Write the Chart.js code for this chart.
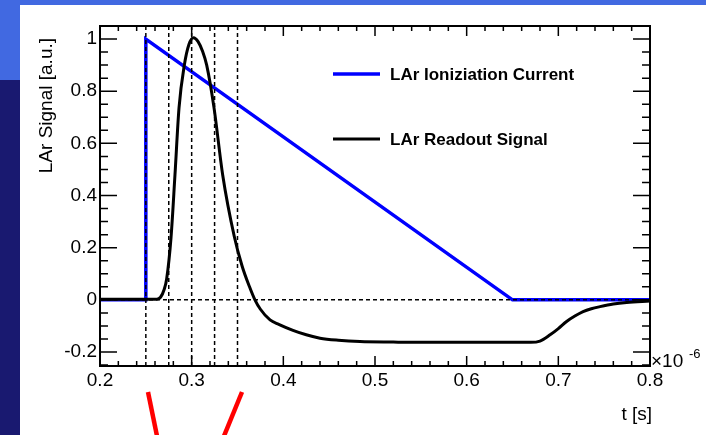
<!DOCTYPE html>
<html>
<head>
<meta charset="utf-8">
<script src="https://cdn.jsdelivr.net/npm/chart.js@4/dist/chart.umd.min.js"></script>
<style>
  body { margin: 0; width: 706px; height: 435px; overflow: hidden; background: #191970; position: relative; }
  #topBand { position: absolute; left: 0; top: 0; width: 706px; height: 5px; background: #4169e1; }
  #leftBand { position: absolute; left: 0; top: 0; width: 20px; height: 80px; background: #4169e1; }
  #panel { position: absolute; left: 20px; top: 5px; width: 686px; height: 430px; background: #fff; }
  #chart { position: absolute; left: 0; top: 0; }
  #marks { position: absolute; left: 0; top: 0; }
</style>
</head>
<body>
<div id="topBand"></div>
<div id="leftBand"></div>
<div id="panel"></div>
<canvas id="chart" width="706" height="435"></canvas>
<svg id="marks" width="706" height="435">
  <line x1="148" y1="392" x2="157" y2="436" stroke="#ff0000" stroke-width="4.5"/>
  <line x1="242" y1="392" x2="224" y2="436" stroke="#ff0000" stroke-width="4.5"/>
</svg>
<script>
// Time axis in units of 1e-6 s
const xMin = 0.2, xMax = 0.8;
const yMin = -0.2536, yMax = 1.05;
const xTicks = [0.2, 0.3, 0.4, 0.5, 0.6, 0.7, 0.8];
const yTicks = [-0.2, 0, 0.2, 0.4, 0.6, 0.8, 1];

// LAr ionization current (triangle)
const currentT = [0.2, 0.25, 0.25, 0.65, 0.8];
const currentV = [0, 0, 1, 0, 0];

// LAr readout signal (shaped, bipolar)
const readoutT = [0.2, 0.25, 0.262, 0.266, 0.270, 0.2727, 0.2775, 0.2818, 0.2862, 0.292, 0.297, 0.302,
  0.307, 0.312, 0.3164, 0.3244, 0.3338, 0.3465, 0.355, 0.363, 0.369, 0.375, 0.3855, 0.395, 0.4105,
  0.425, 0.44, 0.46, 0.4836, 0.52, 0.55, 0.67, 0.68, 0.691, 0.70, 0.709, 0.718, 0.727, 0.736,
  0.7455, 0.76, 0.7745, 0.8];
const readoutV = [0.002, 0.002, 0.002, 0.01, 0.04, 0.08, 0.24, 0.48, 0.736, 0.9, 0.979, 1.005,
  0.99, 0.952, 0.9, 0.736, 0.48, 0.243, 0.13, 0.051, 0, -0.036, -0.077, -0.094, -0.117,
  -0.134, -0.147, -0.155, -0.16, -0.162, -0.163, -0.163, -0.158, -0.134, -0.11, -0.083, -0.062, -0.045, -0.034,
  -0.026, -0.016, -0.010, -0.004];

// Sampling times marked by dashed lines
const sampleT = [0.25, 0.275, 0.3, 0.325, 0.35];

const toPoints = (xs, ys) => xs.map((x, i) => ({ x: x, y: ys[i] }));

const dashed = {
  borderColor: '#000', borderWidth: 1.5, borderDash: [4, 3],
  pointRadius: 0, fill: false, order: 0
};

const datasets = [
  {
    label: 'LAr Ioniziation Current',
    data: toPoints(currentT, currentV),
    borderColor: '#0000ff', borderWidth: 3.5, pointRadius: 0, tension: 0, order: 3
  },
  {
    label: 'LAr Readout Signal',
    data: toPoints(readoutT, readoutV),
    borderColor: '#000', borderWidth: 3, pointRadius: 0,
    cubicInterpolationMode: 'monotone', order: 2
  },
  Object.assign({ data: [{ x: xMin, y: 0 }, { x: xMax, y: 0 }] }, dashed)
];
sampleT.forEach(t => {
  datasets.push(Object.assign({ data: [{ x: t, y: yMin }, { x: t, y: yMax }] }, dashed));
});

// ROOT style frame, inner ticks, titles and legend
const rootFrame = {
  id: 'rootFrame',
  afterDraw(chart) {
    const ctx = chart.ctx;
    const x = chart.scales.x, y = chart.scales.y;
    const L = Math.round(x.left), R = Math.round(x.right);
    const T = Math.round(y.top), B = Math.round(y.bottom);
    ctx.save();
    ctx.setLineDash([]);
    ctx.strokeStyle = '#000000';
    ctx.lineWidth = 2;
    ctx.strokeRect(L, T, R - L, B - T);

    ctx.lineWidth = 1.5;
    ctx.beginPath();
    for (let i = -25; i <= 105; i += 5) {
      const v = i / 100;
      if (v < yMin || v > yMax) continue;
      const py = y.getPixelForValue(v);
      const len = i % 20 === 0 ? 17 : 8;
      ctx.moveTo(L, py); ctx.lineTo(L + len, py);
      ctx.moveTo(R, py); ctx.lineTo(R - len, py);
    }
    for (let i = 20; i <= 80; i += 2) {
      const px = x.getPixelForValue(i / 100);
      const len = i % 10 === 0 ? 10 : 5;
      ctx.moveTo(px, B); ctx.lineTo(px, B - len);
      ctx.moveTo(px, T); ctx.lineTo(px, T + len);
    }
    ctx.stroke();

    // axis titles
    ctx.fillStyle = '#000';
    ctx.font = '19px "Liberation Sans", Arial, sans-serif';
    ctx.textAlign = 'right';
    ctx.textBaseline = 'alphabetic';
    ctx.fillText('t [s]', 652, 420);
    ctx.save();
    ctx.translate(52, 38);
    ctx.rotate(-Math.PI / 2);
    ctx.fillText('LAr Signal [a.u.]', 0, 0);
    ctx.restore();

    // exponent
    ctx.textAlign = 'left';
    ctx.font = '19px "Liberation Sans", Arial, sans-serif';
    ctx.fillText('\u00d710', 651, 367);
    ctx.font = '13px "Liberation Sans", Arial, sans-serif';
    ctx.fillText('-6', 689, 358);

    // legend
    ctx.font = 'bold 17px "Liberation Sans", Arial, sans-serif';
    ctx.textBaseline = 'middle';
    const rows = [74, 139];
    chart.data.datasets.filter(d => d.label).forEach((d, i) => {
      ctx.strokeStyle = d.borderColor;
      ctx.lineWidth = d.borderWidth;
      ctx.beginPath();
      ctx.moveTo(333, rows[i]); ctx.lineTo(380, rows[i]);
      ctx.stroke();
      ctx.fillText(d.label, 390, rows[i] + 1);
    });
    ctx.restore();
  }
};

const fmt = v => String(Math.round(v * 10) / 10);

new Chart(document.getElementById('chart'), {
  type: 'line',
  data: { datasets: datasets },
  options: {
    responsive: false,
    animation: false,
    devicePixelRatio: 1,
    layout: { padding: { left: 20, top: 26, right: 56, bottom: 0 } },
    plugins: { legend: { display: false }, tooltip: { enabled: false } },
    scales: {
      x: {
        type: 'linear', min: xMin, max: xMax,
        grid: { display: false, drawTicks: false },
        border: { display: false },
        afterBuildTicks: s => { s.ticks = xTicks.map(v => ({ value: v })); },
        afterFit: s => { s.height = 69; },
        ticks: {
          autoSkip: false, maxRotation: 0, padding: 3, color: '#000',
          font: { family: '"Liberation Sans", Arial, sans-serif', size: 19 },
          callback: fmt
        }
      },
      y: {
        type: 'linear', min: yMin, max: yMax,
        grid: { display: false, drawTicks: false },
        border: { display: false },
        afterBuildTicks: s => { s.ticks = yTicks.map(v => ({ value: v })); },
        afterFit: s => { s.width = 80; },
        ticks: {
          autoSkip: false, padding: 3, color: '#000',
          font: { family: '"Liberation Sans", Arial, sans-serif', size: 19 },
          callback: fmt
        }
      }
    }
  },
  plugins: [rootFrame]
});
</script>
</body>
</html>
